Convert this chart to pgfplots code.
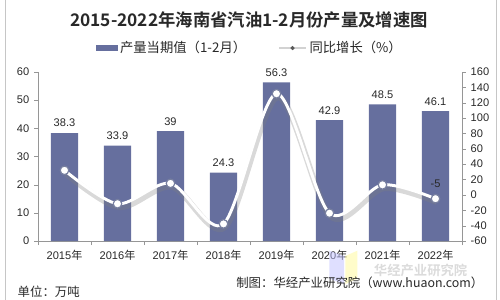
\documentclass[border=0pt]{standalone}
\usepackage{pgfplots}
\pgfplotsset{compat=1.18}
\usepackage{fontspec}
\setmainfont{Liberation Sans}
\newfontfamily\cjk{Noto Sans CJK SC}
\newfontfamily\cjkb{Noto Sans CJK SC Bold}
\definecolor{barcol}{RGB}{102,111,158}
\definecolor{axgray}{RGB}{150,150,150}
\definecolor{txt}{RGB}{40,40,40}
\definecolor{mkcol}{RGB}{120,128,160}
\begin{document}
\begin{tikzpicture}
\path[use as bounding box] (0pt,0pt) rectangle (375pt,225pt);
\draw[gray!45] (3.75pt,0pt) -- (3.75pt,225pt);
\draw[gray!45] (372pt,0pt) -- (372pt,225pt);
\node[font=\cjkb\fontsize{13}{15}\selectfont, text=txt] at (186.75pt,210pt) {2015-2022年海南省汽油1-2月份产量及增速图};
\begin{axis}[at={(28.5pt,44.25pt)}, anchor=south west, scale only axis,
  width=318pt, height=126.75pt,
  xmin=-0.5, xmax=7.5, ymin=0, ymax=60, ytick={0,10,...,60},
  axis x line*=bottom, axis y line*=left,
  xtick={0,...,7},
  xticklabels={2015{\cjk 年},2016{\cjk 年},2017{\cjk 年},2018{\cjk 年},2019{\cjk 年},2020{\cjk 年},2021{\cjk 年},2022{\cjk 年}},
  minor xtick={-0.5,0.5,...,7.5},
  major x tick style={draw=none},
  tick align=outside, major tick length=3pt, minor tick length=3pt,
  axis line style={axgray}, tick style={axgray},
  ticklabel style={font=\fontsize{8.3}{9}\selectfont, text=txt},
  /pgf/number format/assume math mode=true,
  clip=false]
\addplot[ybar, bar width=0.51, fill=barcol, draw=none,
  nodes near coords, nodes near coords style={font=\fontsize{8.3}{9}\selectfont, text=txt, yshift=1pt}]
  coordinates {(0,38.3) (1,33.9) (2,39) (3,24.3) (4,56.3) (5,42.9) (6,48.5) (7,46.1)};
\end{axis}
\begin{axis}[at={(28.5pt,44.25pt)}, anchor=south west, scale only axis,
  width=318pt, height=126.75pt,
  xmin=-0.5, xmax=7.5, ymin=-60, ymax=160, ytick={-60,-40,...,160},
  axis y line*=right, axis x line=none,
  tick align=outside, major tick length=3pt,
  axis line style={axgray}, tick style={axgray},
  ticklabel style={font=\fontsize{8.3}{9}\selectfont, text=txt},
  /pgf/number format/assume math mode=true,
  legend columns=2,
  legend style={at={(0.5,1.142)}, anchor=center, draw=none, fill=none,
    font=\cjk\fontsize{10}{11}\selectfont, text=txt,
    /tikz/every even column/.append style={column sep=22pt}},
  clip=false]
\addlegendimage{legend image code/.code={\fill[barcol] (0pt,-2pt) rectangle (16pt,2pt);}}
\addlegendentry{产量当期值（1-2月）}
\addlegendimage{legend image code/.code={\draw[gray!35, line width=1.5pt] (0pt,0pt)--(20pt,0pt); \fill[gray!70!black] (10pt,0pt) circle (1.4pt);}}
\addlegendentry{同比增长（\%）}
\addplot[smooth, gray, opacity=0.3, line width=4.5pt, xshift=1pt, yshift=-2.5pt, forget plot]
  coordinates {(0,32) (1,-11.5) (2,15) (3,-37.7) (4,131.7) (5,-23.8) (6,13.1) (7,-4.9)};
\addplot[smooth, white, line width=2.2pt, mark=*, mark size=3.2pt,
  mark options={fill=white, draw=mkcol, line width=0.9pt}, forget plot]
  coordinates {(0,32) (1,-11.5) (2,15) (3,-37.7) (4,131.7) (5,-23.8) (6,13.1) (7,-4.9)};
\node[font=\fontsize{8.3}{9}\selectfont, text=txt, anchor=south, yshift=5pt] at (axis cs:7,-4.9) {-5};
\end{axis}
\fill[blue!25, opacity=0.5] (247pt,16pt) -- (258pt,12pt) -- (258pt,33pt) -- (247pt,37pt) -- cycle;
\fill[yellow!35, opacity=0.6] (259pt,12pt) -- (268pt,16pt) -- (268pt,37pt) -- (259pt,33pt) -- cycle;
\node[anchor=east, font=\cjkb\fontsize{10}{12}\selectfont, text=gray!28] at (354pt,22.5pt) {华经产业研究院};
\node[anchor=west, font=\cjk\fontsize{9.3}{11}\selectfont, text=txt] at (9.75pt,6pt) {单位：万吨};
\node[anchor=east, font=\cjk\fontsize{9.3}{11}\selectfont, text=txt] at (366pt,12.75pt) {制图：华经产业研究院（www.huaon.com）};
\end{tikzpicture}
\end{document}
